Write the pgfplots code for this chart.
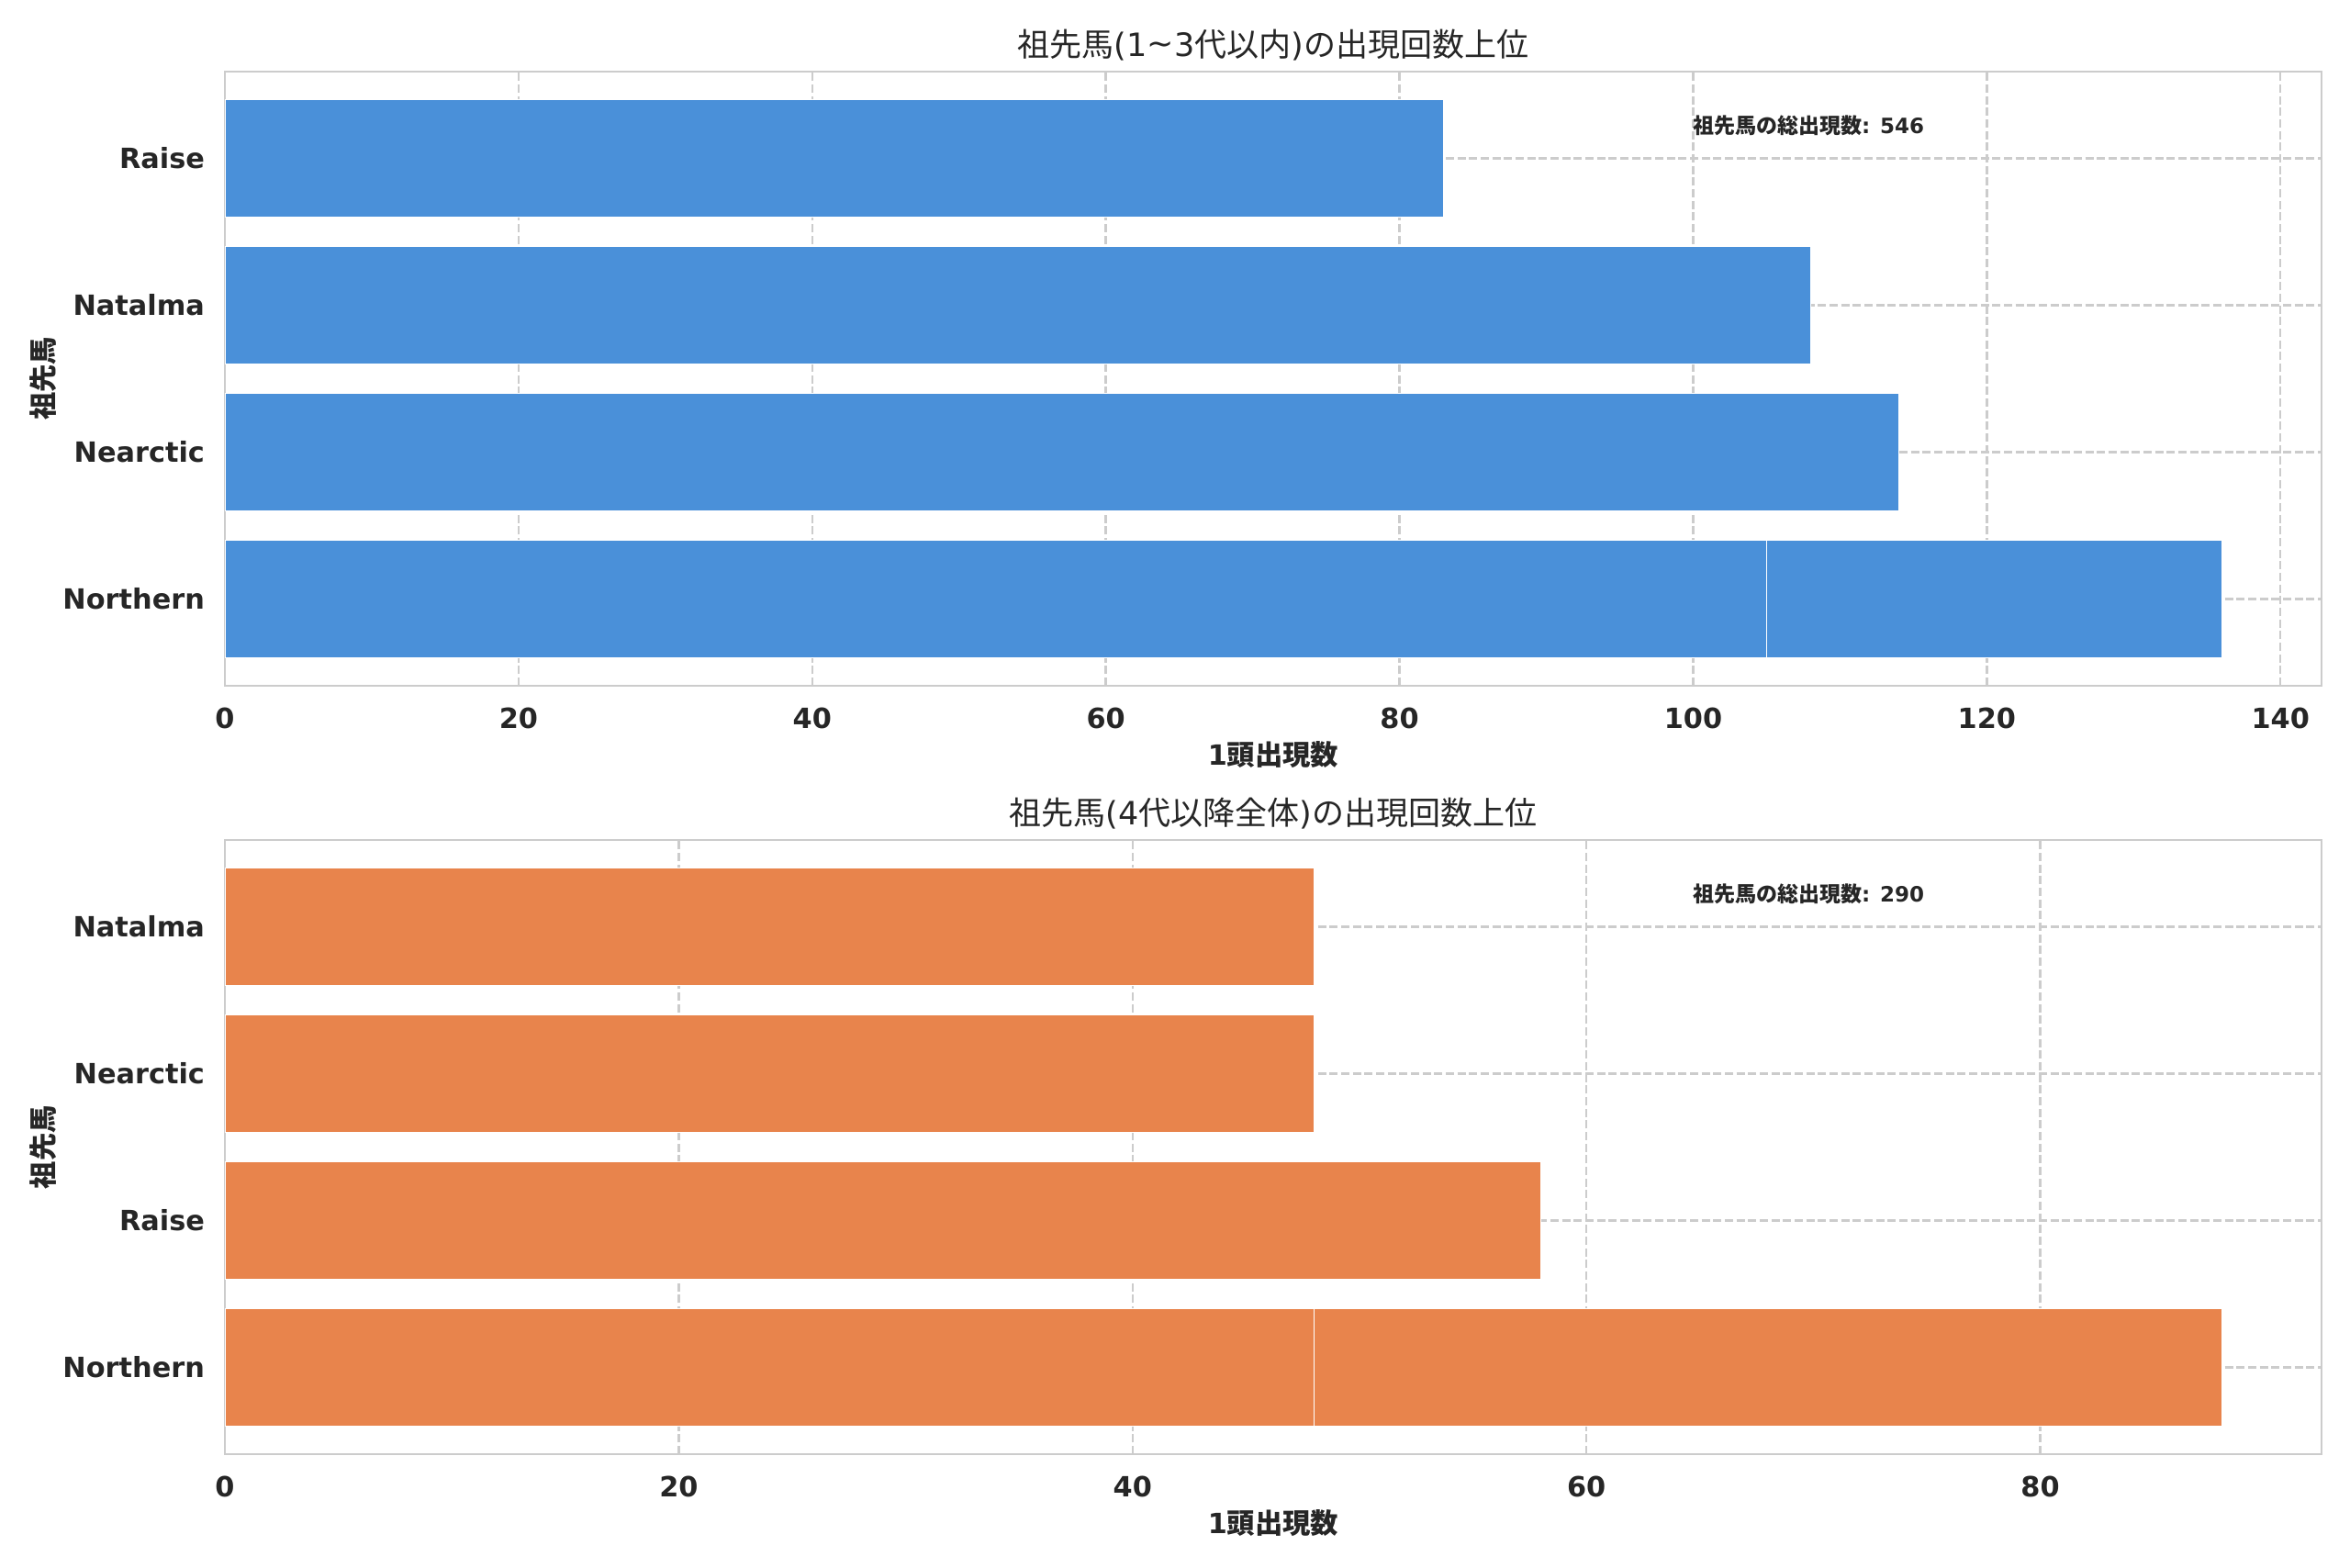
\documentclass[border=0pt]{standalone}
\usepackage{fontspec}
\setmainfont{DejaVu Sans}
\newfontfamily\cjk{Noto Sans CJK JP}
\usepackage{pgfplots}
\pgfplotsset{compat=1.18}
\definecolor{barblue}{HTML}{4A90D9}
\definecolor{barorange}{HTML}{E8844C}
\definecolor{gridc}{HTML}{CCCCCC}
\definecolor{txt}{HTML}{262626}
\pgfplotsset{
  base/.style={
    scale only axis,
    width=685.2pt, height=200.7pt,
    anchor=south west,
    ymin=-0.59, ymax=3.59,
    xmin=0,
    axis line style={gridc, line width=0.45pt},
    major tick length=0pt,
    grid=both,
    major grid style={gridc, line width=0.75pt, dash pattern=on 2.7pt off 1.1pt},
    ytick={0,1,2,3},
    /pgf/number format/assume math mode=true,
    ticklabel style={font=\fontsize{9.1}{11}\selectfont\bfseries, text=txt},
    xticklabel style={yshift=-3.8pt},
    yticklabel style={xshift=-3.1pt},
    xlabel style={at={(axis description cs:0.5,0)}, anchor=center, yshift=-22.5pt, font=\fontsize{9.1}{11}\selectfont\bfseries, text=txt},
    ylabel style={at={(axis description cs:0,0.5)}, anchor=center, yshift=59.4pt, font=\fontsize{9.1}{11}\selectfont\bfseries, text=txt},
    title style={at={(axis description cs:0.5,1)}, anchor=center, yshift=2.8pt, font=\fontsize{10.5}{12}\selectfont, text=txt},
    xlabel={1{\cjk 頭出現数}},
    ylabel={\cjk 祖先馬},
    every axis plot/.append style={xbar, bar width=0.8, bar shift=0pt, draw=white, line width=0.3pt},
  }
}
\begin{document}
\begin{tikzpicture}
\path (0,0) rectangle (768pt,512.1pt);
\begin{axis}[base,
  at={(73.5pt,288pt)},
  xmax=142.8,
  xtick={0,20,40,60,80,100,120,140},
  yticklabels={Northern,Nearctic,Natalma,Raise},
  title={{\cjk 祖先馬}(1\raisebox{0.1ex}{\char"223C}3{\cjk 代以内}){\cjk の出現回数上位}},
]
\addplot[fill=barblue] coordinates {(136,0) (114,1) (108,2) (105,0) (83,3)};
\node[anchor=west, font=\fontsize{6.9}{8}\selectfont\bfseries, text=txt] at (rel axis cs:0.695,0.912) {{\cjk 祖先馬の総出現数}: 546};
\end{axis}
\begin{axis}[base,
  at={(73.5pt,36.9pt)},
  xmax=92.4,
  xtick={0,20,40,60,80},
  yticklabels={Northern,Raise,Nearctic,Natalma},
  title={{\cjk 祖先馬}(4{\cjk 代以降全体}){\cjk の出現回数上位}},
]
\addplot[fill=barorange] coordinates {(88,0) (58,1) (48,2) (48,3) (48,0)};
\node[anchor=west, font=\fontsize{6.9}{8}\selectfont\bfseries, text=txt] at (rel axis cs:0.695,0.912) {{\cjk 祖先馬の総出現数}: 290};
\end{axis}
\end{tikzpicture}
\end{document}
